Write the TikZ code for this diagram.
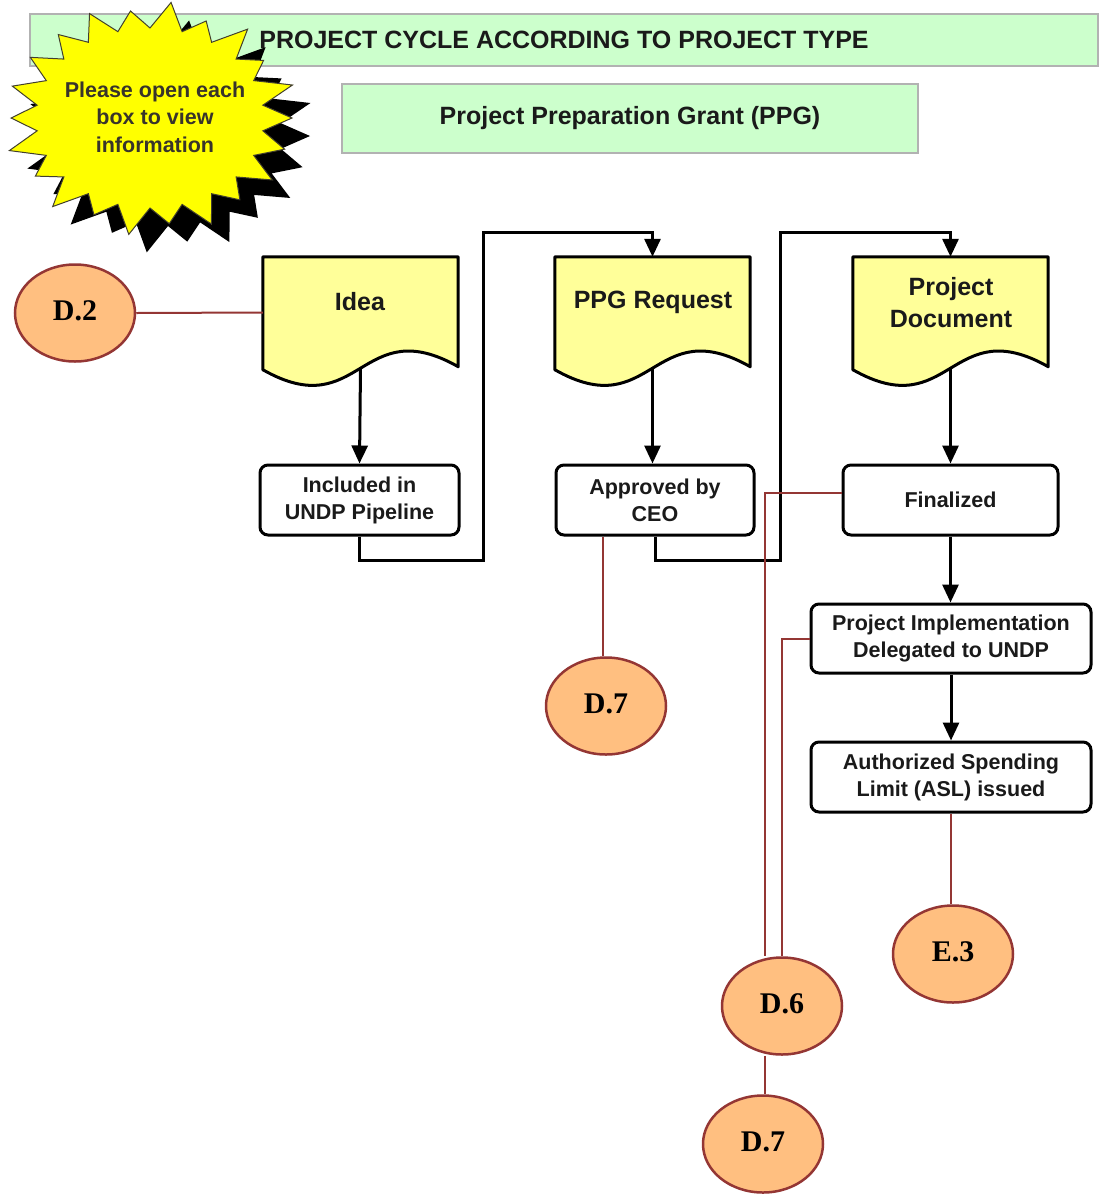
\documentclass[tikz,border=0pt]{standalone}
\usepackage{fontspec}
\setmainfont{Liberation Sans}
\newfontfamily\refserif{Liberation Serif}
\usetikzlibrary{arrows.meta,calc,shapes.geometric}
\definecolor{hdrgreen}{HTML}{CCFFCC}
\definecolor{docyellow}{HTML}{FFFF99}
\definecolor{staryellow}{HTML}{FFFF00}
\definecolor{refred}{HTML}{943634}
\definecolor{refpeach}{HTML}{FFBF80}
\definecolor{txtdark}{HTML}{1A1A1A}
\begin{document}
\begin{tikzpicture}[x=1pt,y=-1pt,
  hdr/.style={draw=gray!60, line width=1.5pt, fill=hdrgreen, inner sep=0pt},
  hdrtext/.style={font=\bfseries\fontsize{25}{30}\selectfont, text=txtdark},
  docbox/.style={minimum width=195pt, minimum height=111pt, inner sep=0pt},
  docshape/.style={draw=black, line width=3pt, fill=docyellow, line join=round},
  doctext/.style={font=\bfseries\fontsize{25}{32}\selectfont, text=txtdark, align=center},
  stepbox/.style={draw=black, line width=3pt, fill=white, rounded corners=8pt, font=\bfseries\fontsize{21.5}{27}\selectfont, text=txtdark, align=center, minimum height=70pt, inner sep=0pt},
  flow/.style={draw=black, line width=3pt, -{Triangle[length=18pt,width=16pt]}},
  refline/.style={draw=refred, line width=2pt},
  refnode/.style={ellipse, draw=refred, line width=2.5pt, fill=refpeach, minimum width=120pt, minimum height=97pt, inner sep=0pt, font=\refserif\bfseries\fontsize{30}{32}\selectfont}
]
\useasboundingbox (0,0) rectangle (1100,1195);

% header bars
\node[hdr, minimum width=1068pt, minimum height=52pt] (title) at (564,40) {};
\node[hdrtext] (titletext) at (564,40) {PROJECT CYCLE ACCORDING TO PROJECT TYPE};
\node[hdr, minimum width=576pt, minimum height=69pt, hdrtext] (ppgtitle) at (630,118.5) {Project Preparation Grant (PPG)};

% starburst with shadow
\fill[black] plot[samples at={0,...,43}, variable=\k]
  ({168 + ((mod(\k,2)==0) ? 142*(1+0.05*sin(97*\k)) : 114)*cos(360/44*\k)},
   {136 + ((mod(\k,2)==0) ? 112*(1+0.05*sin(97*\k)) : 90)*sin(360/44*\k)}) -- cycle;
\filldraw[fill=staryellow, draw=black!70!olive, line width=1pt] plot[samples at={0,...,43}, variable=\k]
  ({150 + ((mod(\k,2)==0) ? 142*(1+0.05*sin(97*\k)) : 114)*cos(360/44*\k)},
   {118 + ((mod(\k,2)==0) ? 112*(1+0.05*sin(97*\k)) : 90)*sin(360/44*\k)}) -- cycle;
\node[font=\bfseries\fontsize{21.5}{27.5}\selectfont, text=black!80!olive, align=center] (star) at (155,117) {Please open each\\box to view\\information};

% document shapes
\node[docbox] (idea) at (360.5,312.5) {};
\node[docbox] (ppg) at (652.5,312.5) {};
\node[docbox] (pdoc) at (950.5,312.5) {};
\foreach \d in {idea,ppg,pdoc}{
  \draw[docshape] (\d.north west) -- (\d.north east) -- ([yshift=1.5pt]\d.south east)
    .. controls ($(\d.south)+(0,-57)$) and ($(\d.south)+(0,57)$) .. ([yshift=-1.5pt]\d.south west) -- cycle;
}
\node[doctext] (ideatext) at (360,302) {Idea};
\node[doctext] (ppgtext) at (653,302) {PPG Request};
\node[doctext] (pdoctext) at (951,303) {Project\\Document};

% step boxes
\node[stepbox, minimum width=199pt] (inc) at (359.5,500) {Included in\\UNDP Pipeline};
\node[stepbox, minimum width=198pt] (appr) at (655,500) {Approved by\\CEO};
\node[stepbox, minimum width=215pt] (fin) at (950.5,500) {Finalized};
\node[stepbox, minimum width=280pt, minimum height=69pt] (pi) at (951,638.5) {Project Implementation\\Delegated to UNDP};
\node[stepbox, minimum width=280pt] (asl) at (951,777) {Authorized Spending\\Limit (ASL) issued};

% flow connectors
\coordinate (j1) at (483,560);
\coordinate (j2) at (483,232);
\coordinate (j3) at (780,560);
\coordinate (j4) at (780,232);
\draw[flow] (idea.south) -- (inc.north);
\draw[flow] (ppg.south) -- (ppg.south |- appr.north);
\draw[flow] (pdoc.south) -- (pdoc.south |- fin.north);
\draw[flow] (fin.south) -- (fin.south |- pi.north);
\draw[flow] (pi.south) -- (asl.north);
\draw[flow] (inc.south) |- (j1) -- (j2) -| (ppg.north);
\draw[flow] (appr.south) |- (j3) -- (j4) -| (pdoc.north);

% reference ellipses
\node[refnode] (d2) at (75,313) {\raisebox{5pt}{D.2}};
\node[refnode] (d7a) at (606,706) {\raisebox{5pt}{D.7}};
\node[refnode] (d6) at (782,1006) {\raisebox{5pt}{D.6}};
\node[refnode] (e3) at (953,954) {\raisebox{5pt}{E.3}};
\node[refnode] (d7b) at (763,1144) {\raisebox{5pt}{D.7}};

% reference lines
\draw[refline] (d2.east) -- (idea.west);
\draw[refline] ([xshift=-3pt]d7a.north |- appr.south) -- ([xshift=-3pt]d7a.north);
\draw[refline] ([yshift=7pt]fin.west) -| ([xshift=-17pt]d6.north);
\draw[refline] (pi.west) -| (d6.north);
\draw[refline] (asl.south) -- (asl.south |- e3.north);
\draw[refline] ([xshift=-17pt]d6.south) -- ([xshift=-17pt]d6.south |- d7b.north);
\end{tikzpicture}
\end{document}
